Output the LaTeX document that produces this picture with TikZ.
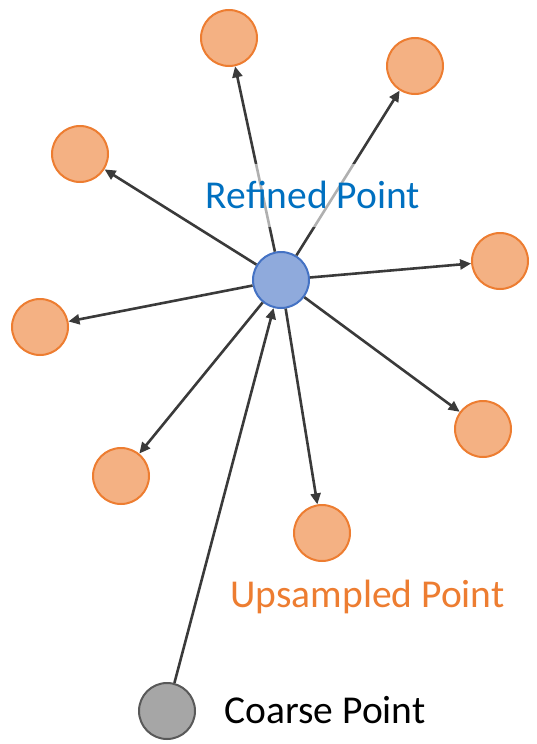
\documentclass[tikz,border=0pt]{standalone}
\usepackage{fontspec}
\setmainfont{Carlito}
\usetikzlibrary{arrows.meta}
\definecolor{upfill}{HTML}{F4B183}
\definecolor{updraw}{HTML}{ED7D31}
\definecolor{reffill}{HTML}{8FAADC}
\definecolor{refdraw}{HTML}{4472C4}
\definecolor{coarsefill}{HTML}{A6A6A6}
\definecolor{coarsedraw}{HTML}{595959}
\definecolor{linecol}{HTML}{3A3A3A}
\definecolor{reftext}{HTML}{0070C0}
\tikzset{
  pt/.style={circle, minimum size=56pt, inner sep=0pt, line width=2pt},
  uppt/.style={pt, fill=upfill, draw=updraw},
  refpt/.style={pt, fill=reffill, draw=refdraw},
  coarsept/.style={pt, fill=coarsefill, draw=coarsedraw},
  conn/.style={draw=linecol, line width=2.6pt, -{Triangle[length=11pt,width=10pt]}},
  lbl/.style={font=\fontsize{39.5}{40}\selectfont, anchor=base, inner sep=0pt}
}
\begin{document}
\begin{tikzpicture}[x=1pt,y=-1pt]
\useasboundingbox (0,0) rectangle (536,744);
\node[refpt] (c) at (281,280) {};
\node[uppt] (u1) at (229,38) {};
\node[uppt] (u2) at (415,66) {};
\node[uppt] (u3) at (80,154) {};
\node[uppt] (u4) at (500,261) {};
\node[uppt] (u5) at (40,327) {};
\node[uppt] (u6) at (483,429) {};
\node[uppt] (u7) at (121,476) {};
\node[uppt] (u8) at (322,533) {};
\node[coarsept] (k) at (167,711) {};
\foreach \t in {u1,u2,u3,u4,u5,u6,u7,u8}
  \draw[conn] (c) -- (\t);
\draw[conn] (k) -- (c);
\node[lbl, text=reftext, fill=white, fill opacity=0.6, text opacity=1,
      text height=44.7pt, text depth=18.3pt] (rl) at (313,208.7) {Refined Point};
\node[lbl, text=updraw] (ul) at (367.5,607) {Upsampled Point};
\node[lbl, text=black] (kl) at (325,723) {Coarse Point};
\end{tikzpicture}
\end{document}
